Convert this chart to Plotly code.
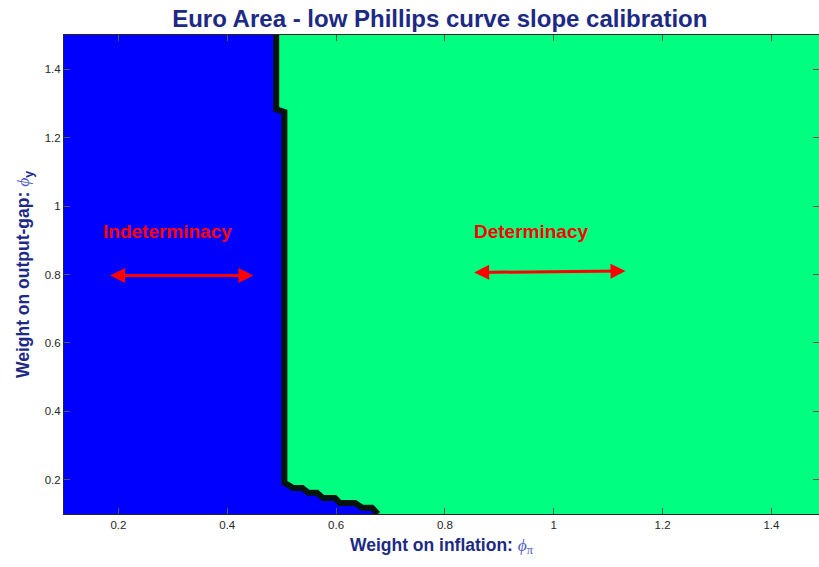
import plotly.graph_objects as go

# Determinacy frontier (phi_pi, phi_y), from top to bottom
frontier_pi = [0.490, 0.490, 0.505, 0.505, 0.512, 0.521, 0.538, 0.549, 0.565, 0.576,
               0.598, 0.607, 0.635, 0.648, 0.666, 0.677]
frontier_y = [1.500, 1.283, 1.275, 0.191, 0.185, 0.176, 0.176, 0.162, 0.162, 0.147,
              0.147, 0.132, 0.132, 0.118, 0.118, 0.100]

x_range = [0.1, 1.4875]
y_range = [0.1, 1.5]
tick_vals = [0.2, 0.4, 0.6, 0.8, 1.0, 1.2, 1.4]
tick_text = ["0.2", "0.4", "0.6", "0.8", "1", "1.2", "1.4"]

# Region labels and arrows
labels = ["Indeterminacy", "Determinacy"]
label_x = [0.168, 0.849]
label_y = [0.925, 0.925]
arrow_x0 = [0.182, 0.851]
arrow_y0 = [0.797, 0.806]
arrow_x1 = [0.448, 1.132]
arrow_y1 = [0.797, 0.810]

BLUE = "rgb(0,0,255)"
GREEN = "rgb(0,255,128)"
NAVY = "#1c2a85"
PHI = "#4b5bbf"

fig = go.Figure()

# Determinacy region (right of frontier)
fig.add_trace(go.Scatter(
    x=frontier_pi + [1.6, 1.6], y=frontier_y + [0.1, 1.5],
    fill="toself", fillcolor=GREEN, mode="none", hoverinfo="skip", showlegend=False))
# Indeterminacy region (left of frontier)
fig.add_trace(go.Scatter(
    x=frontier_pi + [0.1, 0.1], y=frontier_y + [0.1, 1.5],
    fill="toself", fillcolor=BLUE, mode="none", hoverinfo="skip", showlegend=False))
# Frontier line
fig.add_trace(go.Scatter(
    x=frontier_pi, y=frontier_y, mode="lines",
    line=dict(color="#05140e", width=6), hoverinfo="skip", showlegend=False))

for t, lx, ly in zip(labels, label_x, label_y):
    fig.add_annotation(x=lx, y=ly, xref="x", yref="y", text="<b>" + t + "</b>",
                       showarrow=False, xanchor="left", yanchor="middle",
                       font=dict(family="Liberation Sans, Arial", size=19, color="red"))

for x0, y0, x1, y1 in zip(arrow_x0, arrow_y0, arrow_x1, arrow_y1):
    fig.add_annotation(x=x1, y=y1, ax=x0, ay=y0, xref="x", yref="y", axref="x", ayref="y",
                       text="", showarrow=True, arrowhead=2, startarrowhead=2,
                       arrowside="end+start", arrowsize=1, startarrowsize=1,
                       arrowwidth=3, arrowcolor="red", standoff=0, startstandoff=0)

axis_common = dict(
    showgrid=False, zeroline=False, ticks="inside", ticklen=6, tickwidth=1,
    tickcolor="#555555", showline=True, linecolor="#262626", linewidth=1,
    mirror="ticks", tickvals=tick_vals, ticktext=tick_text,
    tickfont=dict(family="Liberation Sans, Arial", size=11.5, color="#262626"),
)

fig.update_layout(
    width=819, height=567,
    margin=dict(l=64, r=0, t=35, b=53),
    paper_bgcolor="white", plot_bgcolor=GREEN,
    title=dict(text="<b>Euro Area - low Phillips curve slope calibration</b>",
               x=0.537, xanchor="center", y=0.968, yanchor="middle",
               font=dict(family="Liberation Sans, Arial", size=24, color=NAVY)),
    xaxis=dict(axis_common, range=x_range,
               title=dict(text="<b>Weight on inflation: </b><span style='font-family:Liberation Serif;color:" + PHI + "'><i>ϕ</i><sub>π</sub></span>",
                          standoff=8,
                          font=dict(family="Liberation Sans, Arial", size=17.5, color=NAVY))),
    yaxis=dict(axis_common, range=y_range,
               title=dict(text="<b>Weight on output-gap: </b><span style='font-family:Liberation Serif;color:" + PHI + "'><i>ϕ</i></span><sub><b>y</b></sub>",
                          standoff=10,
                          font=dict(family="Liberation Sans, Arial", size=17.5, color=NAVY))),
)

fig.write_html("out.html")
